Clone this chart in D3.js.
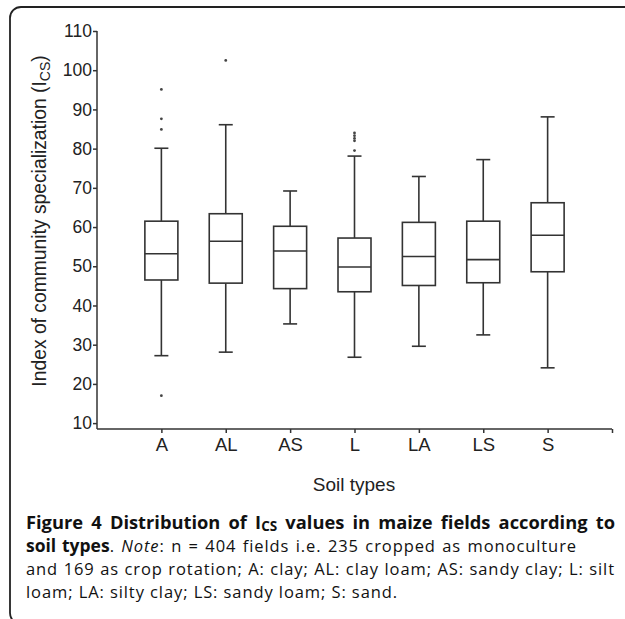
<!DOCTYPE html>
<html><head><meta charset="utf-8">
<script src="https://cdn.jsdelivr.net/npm/d3@7"></script>
<style>body{margin:0;background:#fff}svg{display:block}</style>
</head><body>
<svg id="c" width="625" height="619"></svg>
<script>
const categories = ["A","AL","AS","L","LA","LS","S"];
const whiskerLow  = [27.2, 28.1, 35.3, 26.8, 29.6, 32.5, 24.1];
const q1          = [46.5, 45.7, 44.3, 43.5, 45.1, 45.8, 48.6];
const median      = [53.2, 56.4, 53.9, 49.8, 52.5, 51.7, 57.9];
const q3          = [61.5, 63.4, 60.2, 57.2, 61.2, 61.5, 66.2];
const whiskerHigh = [80.1, 86.1, 69.2, 78.1, 72.9, 77.2, 88.1];
const outliers    = [[95.1, 87.6, 84.9, 17.0], [102.5], [], [84.0, 83.3, 82.6, 82.0, 79.5], [], [], []];
const yTicks = [10,20,30,40,50,60,70,80,90,100,110];

const svg = d3.select("#c");
const ink = "#333";
const sans = "'Liberation Sans',Arial,sans-serif";

// frame
svg.append("rect").attr("x",10).attr("y",7).attr("width",660).attr("height",617)
  .attr("rx",11).attr("fill","none").attr("stroke","#222").attr("stroke-width",1.8);

const y = d3.scaleLinear().domain([8.5,110]).range([429,31]);
const x = d3.scaleLinear().domain([0,8]).range([97,612]);
const idx = categories.map((c,i)=>i+1);
const bw = 33;

const yAxis = svg.append("g").attr("transform","translate(97,0)")
  .call(d3.axisLeft(y).tickValues(yTicks).tickSize(4).tickSizeOuter(0).tickPadding(1));
const xAxis = svg.append("g").attr("transform","translate(0,429)")
  .call(d3.axisBottom(x).tickValues([1,2,3,4,5,6,7,8]).tickFormat(i=>categories[i-1]||"")
    .tickSize(4).tickSizeOuter(0).tickPadding(5));
[yAxis,xAxis].forEach(g=>{
  g.selectAll("path,line").attr("stroke",ink).attr("stroke-width",1.5);
  g.selectAll("text").attr("fill","#222").style("font-family",sans);
});
yAxis.selectAll("text").style("font-size","17.5px");
xAxis.selectAll("text").style("font-size","18.5px");
xAxis.select(".domain").attr("d","M97,0H612");
yAxis.select(".domain").attr("d","M0,"+y(110)+"V429");

const boxes = svg.append("g").attr("stroke",ink).attr("stroke-width",1.6).attr("fill","none");
categories.forEach((c,i)=>{
  const cx = x(idx[i]);
  const g = boxes.append("g");
  g.append("line").attr("x1",cx).attr("x2",cx).attr("y1",y(whiskerHigh[i])).attr("y2",y(q3[i]));
  g.append("line").attr("x1",cx).attr("x2",cx).attr("y1",y(q1[i])).attr("y2",y(whiskerLow[i]));
  g.append("line").attr("x1",cx-7).attr("x2",cx+7).attr("y1",y(whiskerHigh[i])).attr("y2",y(whiskerHigh[i]));
  g.append("line").attr("x1",cx-7).attr("x2",cx+7).attr("y1",y(whiskerLow[i])).attr("y2",y(whiskerLow[i]));
  g.append("rect").attr("x",cx-bw/2).attr("width",bw).attr("y",y(q3[i])).attr("height",y(q1[i])-y(q3[i])).attr("fill","#fff");
  g.append("line").attr("x1",cx-bw/2).attr("x2",cx+bw/2).attr("y1",y(median[i])).attr("y2",y(median[i]));
  outliers[i].forEach(v=>{
    svg.append("circle").attr("cx",cx).attr("cy",y(v)).attr("r",1.4).attr("fill","#444");
  });
});

// y title
const yt = svg.append("text").attr("transform","translate(45.5,221) rotate(-90)")
  .attr("text-anchor","middle").attr("fill","#222")
  .style("font-family",sans).style("font-size","19.3px");
yt.append("tspan").text("Index of community specialization (I");
yt.append("tspan").style("font-size","14px").attr("dy",4).text("CS");
yt.append("tspan").attr("dy",-4).text(")");

svg.append("text").attr("x",354).attr("y",491).attr("text-anchor","middle").attr("fill","#222")
  .style("font-family",sans).style("font-size","19px").text("Soil types");

// caption
function justify(t, target){
  const n = t.node();
  const w = n.getComputedTextLength();
  const spaces = (n.textContent.match(/ /g)||[]).length;
  if (spaces>0) t.style("word-spacing", Math.max(0,(target-w)/spaces)+"px");
}
const cap = svg.append("g").style("font-family","'Open Sans',sans-serif").attr("fill","#111");
// last line sets the natural letter spacing of the regular text
const l4 = cap.append("text").attr("x",26).attr("y",597.5).style("font-size","16.5px")
  .text("loam; LA: silty clay; LS: sandy loam; S: sand.");
const nat = l4.node().getComputedTextLength();
const chars = l4.node().textContent.length;
const ls = Math.max(0, (372 - nat) / chars);
l4.style("letter-spacing", ls+"px");

const l1 = cap.append("text").attr("x",26).attr("y",528.5).attr("font-weight","bold").style("font-size","18.3px");
l1.append("tspan").text("Figure 4 Distribution of I");
l1.append("tspan").style("font-size","13.5px").attr("dy",2.5).text("CS");
l1.append("tspan").attr("dy",-2.5).text(" values in maize fields according to");
justify(l1, 589);
const l2 = cap.append("text").attr("x",26).attr("y",551.5).style("font-size","16.5px").style("letter-spacing",ls+"px");
l2.append("tspan").attr("font-weight","bold").style("font-size","17.5px").style("letter-spacing","0px").text("soil types");
l2.append("tspan").text(". ");
l2.append("tspan").attr("font-style","italic").text("Note");
l2.append("tspan").text(": n = 404 fields i.e. 235 cropped as monoculture");
justify(l2, 551);
const l3 = cap.append("text").attr("x",26).attr("y",574.5).style("font-size","16.5px").style("letter-spacing",ls+"px")
  .text("and 169 as crop rotation; A: clay; AL: clay loam; AS: sandy clay; L: silt");
justify(l3, 589);
</script>
</body></html>
